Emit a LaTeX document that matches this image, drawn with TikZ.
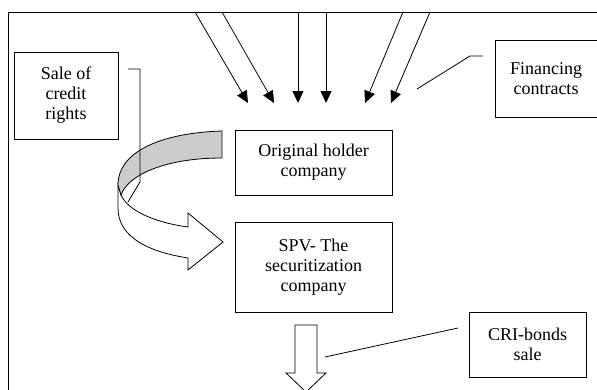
\documentclass[tikz,border=0pt]{standalone}
\usepackage{fontspec}
\setmainfont{Liberation Serif}
\usetikzlibrary{arrows.meta, positioning}

\begin{document}
\begin{tikzpicture}[x=1pt, y=-1pt, line width=0.8pt,
    khung/.style={draw, align=center, inner sep=0pt, font=\fontsize{18}{20}\selectfont},
    muiten/.style={-{Triangle[length=12pt, width=11pt]}}]

            \useasboundingbox (0,0) rectangle (597,389);

            % Khung ngoài
            \draw (8,400) -- (8,12) -- (610,12);

            % Các hộp chữ
            \node[khung, minimum width=104pt, minimum height=87pt] (banquyen) at (66,95.5) {Sale of\\credit\\rights};
            \node[khung, minimum width=157pt, minimum height=65pt] (congtygoc) at (313.5,162.5) {Original holder\\company};
            \node[khung, minimum width=157pt, minimum height=90pt] (spv) at (313.5,267) {SPV- The\\securitization\\company};
            \node[khung, minimum width=102pt, minimum height=77pt] (hopdong) at (546,78.5) {Financing\\contracts};
            \node[khung, minimum width=117pt, minimum height=65pt] (traiphieu) at (527.5,344.5) {CRI-bonds\\sale};

            % Các mũi tên từ trên xuống
            \foreach \a/\b [count=\i] in {195/248, 222/274, 298/298, 326/326, 403/365, 430/391} {
                \coordinate (dau\i) at (\a,12);
                \coordinate (cuoi\i) at (\b,103);
                \draw[muiten] (dau\i) -- (cuoi\i);
            }

            % Mũi tên cong (mặt trước)
            \draw[fill=white] (118,185) -- (118,208) .. controls (118,238) and (150,252) .. (188,258)
                -- (188,270) -- (223,242) -- (188,213) -- (188,227)
                .. controls (152,222) and (128,210) .. (121,195) -- cycle;
            % Mũi tên cong (mặt sau, tô xám)
            \draw[fill=black!20] (222,131) .. controls (160,133) and (118,152) .. (118,185)
                -- (121,195) .. controls (128,175) and (165,158) .. (222,158) -- cycle;

            % Đường gạch nối với hộp bên trái
            \coordinate (g1) at (128,69);
            \coordinate (g2) at (140,69);
            \coordinate (g3) at (140,182);
            \coordinate (g4) at (128,202);
            \draw (g1) -- (g2) -- (g3) -- (g4);

            % Đường nối hộp bên phải
            \coordinate (h1) at (483,56);
            \coordinate (h2) at (470,56);
            \coordinate (h3) at (417,89);
            \draw (h1) -- (h2) -- (h3);

            % Mũi tên rỗng đi xuống
            \draw[fill=white] (295,325) -- (317,325) -- (317,373) -- (326,373) -- (306,392) -- (286,373) -- (295,373) -- cycle;

            % Đường nối hộp CRI
            \coordinate (t1) at (458,328);
            \coordinate (t2) at (325,357);
            \draw (t1) -- (t2);

            \end{tikzpicture}
\end{document}
